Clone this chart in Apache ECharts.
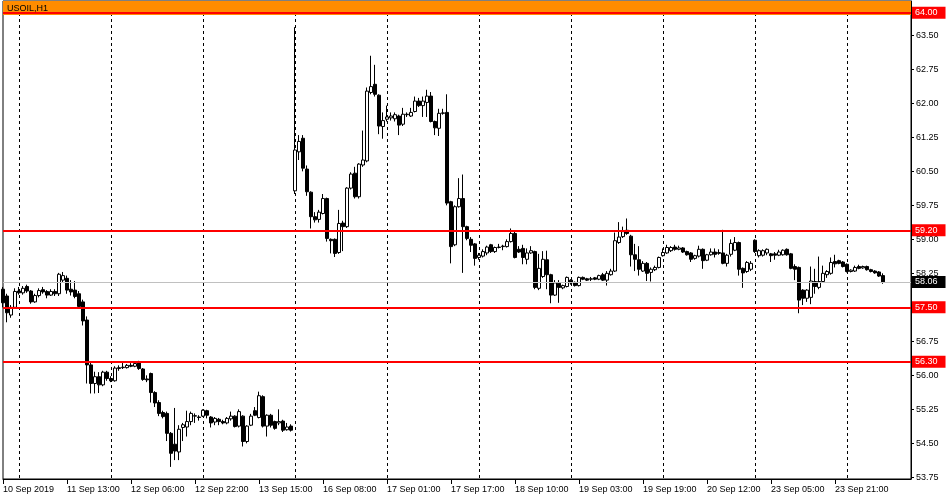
<!DOCTYPE html>
<html><head><meta charset="utf-8">
<script src="https://cdn.jsdelivr.net/npm/echarts@6/dist/echarts.min.js"></script>
<style>html,body{margin:0;padding:0;background:#fff}#c{width:950px;height:500px}</style>
</head><body><div id="c"></div>
<script>
const symbolName = 'USOIL,H1';
const tickLabels = ['10 Sep 2019','11 Sep 13:00','12 Sep 06:00','12 Sep 22:00','13 Sep 15:00','16 Sep 08:00','17 Sep 01:00','17 Sep 17:00','18 Sep 10:00','19 Sep 03:00','19 Sep 19:00','20 Sep 12:00','23 Sep 05:00','23 Sep 21:00'];
const priceTicks = [53.75,54.50,55.25,56.00,56.75,57.50,58.25,59.00,59.75,60.50,61.25,62.00,62.75,63.50];
const levels = [64.00, 59.20, 57.50, 56.30];
const lastPrice = 58.06;
const bandLow = 63.95;

const open = [
57.9,57.75,57.33,57.5,57.86,57.82,57.96,57.86,57.62,57.76,57.89,57.85,57.77,57.85,57.8,58.1,58.14,57.9,57.88,57.8,
57.62,57.22,56.23,55.82,55.97,55.79,56.07,55.93,55.88,56.15,56.17,56.17,56.22,56.2,56.27,56.14,55.92,56.04,55.62,55.4,
55.18,55.16,54.72,54.48,54.31,54.85,54.86,54.98,55.1,55.08,55.1,55.22,55.08,54.97,55.03,54.98,54.95,55.04,55.1,54.88,
55.1,54.54,54.9,55.22,55.07,55.53,54.88,55.12,54.98,54.95,54.99,54.8,54.88,
60.07,60.93,61.23,60.55,60.04,59.5,59.44,59.57,59.9,59.0,59.0,58.71,59.36,59.28,60.13,60.46,59.94,60.64,60.73,62.24,
62.42,62.18,61.49,61.65,61.68,61.66,61.72,61.54,61.75,61.72,61.82,62.05,61.95,62.02,62.16,61.6,61.45,61.78,61.8,59.83,
58.88,59.72,59.9,59.28,59.0,58.9,58.6,58.63,58.7,58.88,58.73,58.82,58.84,58.84,58.95,59.13,58.78,58.8,58.56,58.7,
58.73,57.92,58.18,58.55,58.22,57.77,58.03,57.93,57.96,58.1,58.05,57.98,58.16,58.13,58.12,58.15,58.12,58.22,58.1,58.22,
58.3,58.93,59.06,59.2,59.07,58.66,58.55,58.3,58.47,58.27,58.33,58.38,58.64,58.7,58.75,58.83,58.78,58.81,58.73,58.7,
58.58,58.63,58.78,58.54,58.66,58.72,58.69,58.7,58.47,58.67,58.76,58.93,58.36,58.29,58.34,58.98,58.64,58.65,58.7,58.68,
58.68,58.65,58.66,58.78,58.68,58.4,58.38,57.88,57.7,57.72,58.07,57.94,58.07,58.22,58.25,58.51,58.53,58.5,58.45,58.29,
58.3,58.4,58.37,58.4,58.33,58.3,58.28,58.2];
const close = [
57.6,57.38,57.5,57.85,57.82,57.92,57.86,57.62,57.76,57.87,57.84,57.77,57.85,57.8,58.23,58.2,57.88,57.84,57.74,57.52,
57.2,56.23,55.82,55.97,55.79,56.07,55.93,55.88,56.16,56.17,56.18,56.22,56.2,56.26,56.15,55.91,55.9,55.62,55.39,55.16,
55.09,54.72,54.28,54.33,54.81,54.91,54.98,55.16,55.11,55.07,55.23,55.12,54.95,55.05,54.98,54.95,55.05,55.1,54.87,55.2,
54.54,54.88,55.1,55.12,55.55,54.88,55.12,54.9,54.83,54.98,54.79,54.86,54.79,
60.97,61.16,60.57,60.05,59.5,59.43,59.6,59.9,59.02,58.97,58.69,59.35,59.28,60.13,60.44,59.94,60.66,60.75,62.27,62.37,
62.2,61.5,61.62,61.7,61.72,61.75,61.52,61.76,61.76,61.8,62.05,61.95,62.05,62.16,61.6,61.46,61.78,61.79,59.8,58.84,
59.72,59.9,59.28,59.02,58.87,58.58,58.65,58.73,58.83,58.73,58.82,58.83,58.85,58.95,59.13,58.6,58.72,58.6,58.7,58.75,
57.94,58.36,58.56,58.22,57.77,58.04,57.94,57.98,58.16,58.04,57.98,58.16,58.12,58.1,58.13,58.12,58.2,58.1,58.25,58.3,
58.97,59.05,59.17,59.13,58.66,58.56,58.34,58.47,58.25,58.34,58.38,58.6,58.71,58.82,58.82,58.78,58.81,58.72,58.66,58.56,
58.64,58.78,58.53,58.66,58.72,58.67,58.71,58.47,58.65,58.91,58.93,58.34,58.26,58.49,58.47,58.73,58.75,58.75,58.78,58.64,
58.65,58.72,58.76,58.66,58.36,58.34,57.66,57.7,57.88,58.08,57.96,58.07,58.25,58.29,58.49,58.46,58.47,58.4,58.29,58.32,
58.38,58.36,58.4,58.33,58.29,58.26,58.19,58.06];
const low = [
57.5,57.17,57.27,57.48,57.78,57.78,57.82,57.58,57.6,57.72,57.8,57.7,57.75,57.75,57.75,58.05,57.8,57.76,57.7,57.48,
57.1,55.82,55.6,55.6,55.61,55.76,55.88,55.85,55.86,56.1,56.14,56.15,56.18,56.18,56.12,55.88,55.85,55.4,55.3,55.1,
55.05,54.55,53.98,54.13,54.13,54.55,54.65,54.9,54.95,55.0,55.08,55.05,54.85,54.9,54.9,54.92,54.92,55.0,54.85,54.85,
54.43,54.5,54.88,55.1,55.05,54.85,54.65,54.85,54.8,54.9,54.75,54.78,54.76,
60.0,60.75,60.5,59.96,59.24,59.37,59.37,59.55,58.95,58.69,58.61,58.68,58.74,59.25,60.1,59.9,59.9,60.6,60.7,62.2,
62.15,61.32,61.22,61.6,61.62,61.6,61.3,61.5,61.7,61.7,61.8,61.92,61.7,61.7,61.58,61.3,61.28,61.75,59.75,58.47,
58.85,59.7,58.26,58.98,58.72,58.42,58.55,58.6,58.65,58.7,58.7,58.8,58.76,58.82,58.93,58.58,58.7,58.45,58.45,58.68,
57.9,57.88,58.15,57.9,57.59,57.75,57.6,57.9,57.94,58.0,57.96,57.96,58.1,58.08,58.08,58.1,58.1,58.08,57.98,58.2,
58.28,58.9,59.03,59.1,58.4,58.3,58.2,58.28,58.08,58.07,58.3,58.36,58.62,58.68,58.72,58.75,58.76,58.7,58.64,58.5,
58.55,58.6,58.35,58.52,58.64,58.6,58.66,58.45,58.4,58.62,58.74,58.2,57.93,58.26,58.3,58.7,58.6,58.62,58.65,58.5,
58.55,58.63,58.64,58.64,58.34,58.1,57.37,57.55,57.62,57.57,57.8,57.9,58.05,58.15,58.22,58.38,58.45,58.38,58.27,58.27,
58.28,58.34,58.35,58.31,58.27,58.24,58.17,58.02];
const high = [
57.95,57.8,57.55,57.92,57.95,57.97,58.0,57.88,57.8,57.92,57.95,57.88,57.9,57.9,58.26,58.28,58.2,58.1,58.08,57.86,
57.67,57.3,56.28,56.08,56.07,56.1,56.1,55.98,56.2,56.22,56.3,56.25,56.27,56.3,56.32,56.16,56.0,56.06,55.65,55.45,
55.22,55.2,54.75,55.28,54.9,54.95,55.22,55.2,55.16,55.12,55.25,55.24,55.1,55.08,55.06,55.02,55.08,55.2,55.12,55.25,
55.12,54.9,55.15,55.3,55.64,55.56,55.14,55.15,55.0,55.25,55.02,54.95,54.92,
63.68,61.3,61.3,60.63,60.06,59.6,59.65,60.0,59.92,59.02,59.02,59.65,59.41,60.15,60.48,60.6,60.68,61.4,62.35,63.05,
62.85,62.2,61.8,61.95,61.8,61.8,61.75,61.9,61.8,61.9,62.15,62.12,62.15,62.3,62.25,61.62,61.88,61.88,62.2,59.85,
59.75,60.35,60.43,59.3,59.05,58.92,58.7,58.78,58.86,58.9,58.84,58.9,58.88,59.0,59.24,59.2,58.85,58.88,58.8,58.85,
58.75,58.68,58.74,58.75,58.24,58.1,58.1,58.0,58.18,58.12,58.07,58.18,58.18,58.15,58.17,58.17,58.22,58.26,58.3,58.35,
59.15,59.38,59.28,59.46,59.1,58.9,58.85,58.52,58.5,58.38,58.42,58.62,58.8,58.88,58.85,58.88,58.86,58.83,58.75,58.72,
58.66,58.86,58.8,58.68,58.8,58.8,58.78,59.21,58.68,59.0,59.05,58.95,58.38,58.52,58.52,59.0,58.78,58.78,58.8,58.7,
58.72,58.77,58.78,58.8,58.7,58.45,58.4,57.9,57.9,58.4,58.35,58.62,58.42,58.32,58.6,58.66,58.55,58.52,58.47,58.34,
58.42,58.44,58.42,58.42,58.35,58.32,58.3,58.25];

// hourly bar times: trading hours 01:00-23:00, no weekends
const barCount = 228;
const monthNames = ['Jan','Feb','Mar','Apr','May','Jun','Jul','Aug','Sep','Oct','Nov','Dec'];
const categories = [];
let t = Date.UTC(2019, 8, 10, 20);
while (categories.length < barCount) {
  const d = new Date(t);
  const wd = d.getUTCDay(), h = d.getUTCHours();
  if (wd !== 0 && wd !== 6 && h !== 0) {
    categories.push(d.getUTCDate() + ' ' + monthNames[d.getUTCMonth()] + ' ' + String(h).padStart(2,'0') + ':00');
  }
  t += 3600000;
}

const ohlc = categories.map((c, i) => i < open.length ? [open[i], close[i], low[i], high[i]] : '-');

const FONT = 'Liberation Sans';
const chart = echarts.init(document.getElementById('c'), null, {renderer: 'canvas'});
const lineData = levels.map(v => ({
  yAxis: v,
  lineStyle: {color: '#ff0000', width: 2, type: 'solid'},
  label: {backgroundColor: '#ff0000', color: '#ffffff'}
}));
lineData.push({
  yAxis: lastPrice,
  lineStyle: {color: '#c0c0c0', width: 1, type: 'solid'},
  label: {backgroundColor: '#000000', color: '#ffffff'}
});

chart.setOption({
  animation: false,
  backgroundColor: '#ffffff',
  textStyle: {fontFamily: FONT},
  graphic: [{
    type: 'text', left: 7, top: 4, z: 100,
    style: {text: symbolName, fill: '#000', font: '9px "Liberation Sans"'}
  }],
  grid: {left: 3, right: 39, top: 1, bottom: 21, show: true, borderColor: '#000', borderWidth: 1, backgroundColor: '#fff'},
  xAxis: {
    type: 'category',
    data: categories,
    boundaryGap: false,
    axisLine: {show: true, lineStyle: {color: '#000', width: 1}},
    axisTick: {show: true, length: 5, lineStyle: {color: '#000'}, interval: (i) => i % 16 === 0 && i / 16 < tickLabels.length},
    axisLabel: {
      show: true, interval: (i) => i % 16 === 0 && i / 16 < tickLabels.length,
      formatter: (v, i) => tickLabels[i / 16] || '',
      align: 'left', margin: 6, color: '#000', fontSize: 9, fontFamily: FONT
    },
    splitLine: {show: true, interval: (i) => i >= 4 && (i - 4) % 23 === 0, lineStyle: {color: '#000', width: 1, type: [3, 3]}}
  },
  yAxis: {
    type: 'value',
    position: 'right',
    min: 53.713, max: 64.258,
    scale: true,
    axisLine: {show: true, lineStyle: {color: '#000', width: 1}},
    axisTick: {show: true, length: 3, inside: false, customValues: priceTicks, lineStyle: {color: '#000'}},
    axisLabel: {show: true, customValues: priceTicks, formatter: (v) => v.toFixed(2), margin: 5, color: '#000', fontSize: 9, fontFamily: FONT},
    splitLine: {show: false}
  },
  series: [{
    type: 'candlestick',
    data: ohlc,
    barWidth: 3,
    itemStyle: {color: '#ffffff', color0: '#000000', borderColor: '#000000', borderColor0: '#000000', borderWidth: 1},
    markArea: {
      silent: true,
      itemStyle: {color: '#ff8c00', opacity: 1},
      data: [[{yAxis: bandLow}, {yAxis: 64.258}]]
    },
    markLine: {
      silent: true, symbol: 'none', animation: false,
      label: {
        show: true, position: 'end', distance: 1,
        formatter: (p) => Number(p.value).toFixed(2),
        fontSize: 9, fontFamily: FONT, padding: [2, 8, 1, 3], lineHeight: 9
      },
      data: lineData
    }
  }]
});
</script></body></html>
